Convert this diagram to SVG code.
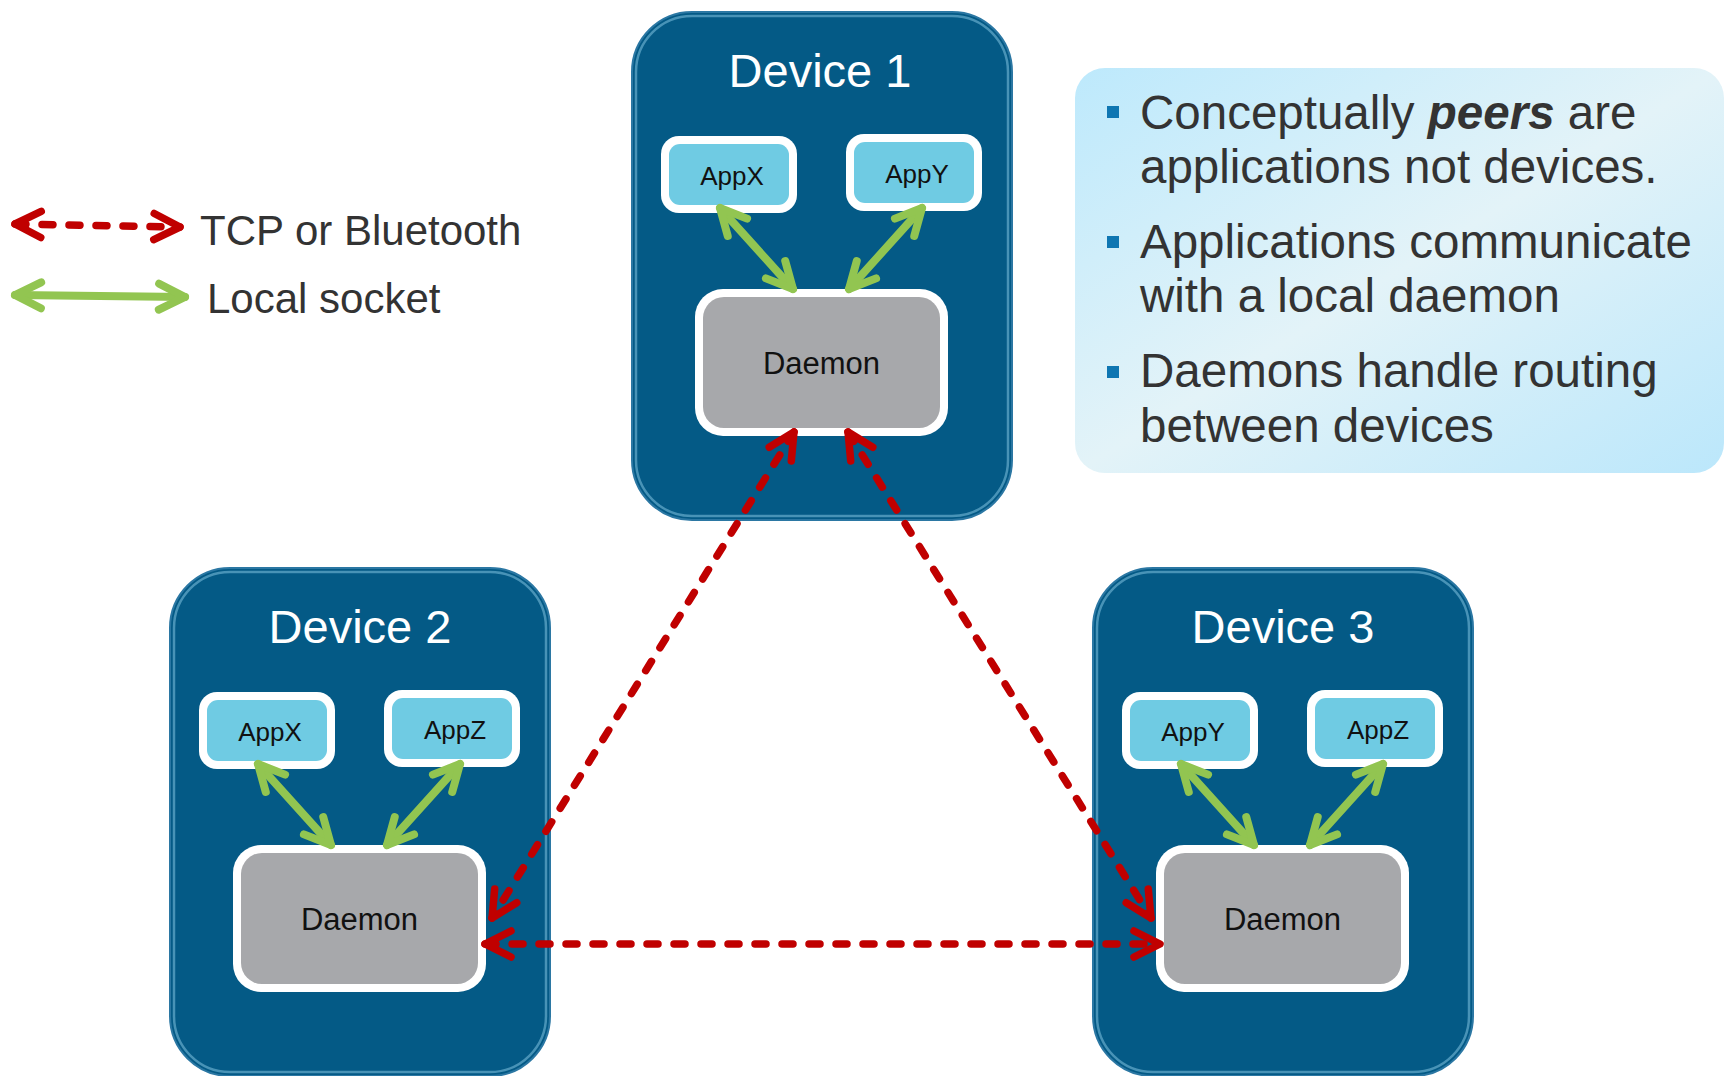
<svg xmlns="http://www.w3.org/2000/svg" width="1725" height="1076" viewBox="0 0 1725 1076">
  <style>
    .dev { fill: #045a86; stroke: #2b77a3; stroke-width: 2; }
    .devHi { fill: none; stroke: #8ccbe7; stroke-width: 2.5; opacity: 0.5; }
    .title { font-family: "Liberation Sans", Arial, sans-serif; font-size: 47px; fill: #ffffff; text-anchor: middle; }
    .appOuter { fill: #ffffff; }
    .appInner { fill: #6fcbe3; }
    .dmnInner { fill: #a7a8ab; }
    .lbl { font-family: "Liberation Sans", Arial, sans-serif; fill: #111111; text-anchor: middle; }
    .app { font-size: 26px; }
    .dmn { font-size: 31px; }
    .tcp { fill: none; stroke: #c00000; stroke-width: 7.5; stroke-linecap: round; stroke-dasharray: 11 16; }
    .sock { fill: none; stroke: #92c551; stroke-width: 8; stroke-linecap: round; }
    .legend { font-family: "Liberation Sans", Arial, sans-serif; font-size: 42px; fill: #333333; }
    .note { font-family: "Liberation Sans", Arial, sans-serif; font-size: 47.5px; fill: #333333; }
    .bullet { fill: #0e76b2; }
  </style>
  <defs>
    <marker id="redHead" markerUnits="userSpaceOnUse" markerWidth="60" markerHeight="60" refX="0" refY="0" orient="auto-start-reverse" overflow="visible">
      <path d="M-26,-13 L0,0 L-26,13" fill="none" stroke="#c00000" stroke-width="7.5" stroke-linecap="round" stroke-linejoin="round"/>
    </marker>
    <marker id="greenHead" markerUnits="userSpaceOnUse" markerWidth="60" markerHeight="60" refX="0" refY="0" orient="auto-start-reverse" overflow="visible">
      <path d="M-26,-13 L0,0 L-26,13" fill="none" stroke="#92c551" stroke-width="8" stroke-linecap="round" stroke-linejoin="round"/>
    </marker>
    <linearGradient id="noteFill" x1="0" y1="0" x2="1" y2="1">
      <stop offset="0" stop-color="#bde9fc"/>
      <stop offset="0.5" stop-color="#e3f3f8"/>
      <stop offset="1" stop-color="#bbe7fb"/>
    </linearGradient>
  </defs>

  <!-- legend -->
  <g id="legend">
    <line class="tcp" x1="15" y1="224" x2="180" y2="227" marker-start="url(#redHead)" marker-end="url(#redHead)"/>
    <text class="legend" x="200" y="245">TCP or Bluetooth</text>
    <line class="sock" x1="15" y1="295" x2="185" y2="297" marker-start="url(#greenHead)" marker-end="url(#greenHead)"/>
    <text class="legend" x="207" y="313">Local socket</text>
  </g>

  <!-- notes panel -->
  <g id="notes">
    <rect x="1075" y="68" width="649" height="405" rx="30" fill="url(#noteFill)"/>
    <rect class="bullet" x="1107" y="106" width="12" height="12"/>
    <rect class="bullet" x="1107" y="236" width="12" height="12"/>
    <rect class="bullet" x="1107" y="366" width="12" height="12"/>
    <text class="note" x="1140" y="129">Conceptually <tspan font-weight="bold" font-style="italic">peers</tspan> are</text>
    <text class="note" x="1140" y="183">applications not devices.</text>
    <text class="note" x="1140" y="258">Applications communicate</text>
    <text class="note" x="1140" y="312">with a local daemon</text>
    <text class="note" x="1140" y="387">Daemons handle routing</text>
    <text class="note" x="1140" y="442">between devices</text>
  </g>

  <!-- Device 1 -->
  <g id="device1" transform="translate(632,12)">
    <rect class="dev" x="0" y="0" width="380" height="508" rx="60"/>
    <rect class="devHi" x="4" y="4" width="372" height="500" rx="56"/>
    <text class="title" x="188" y="75">Device 1</text>
    <g id="device1-appx">
      <rect class="appOuter" x="29" y="124" width="136" height="77" rx="18"/>
      <rect class="appInner" x="37" y="132" width="120" height="61" rx="11"/>
      <text class="lbl app" x="100" y="173">AppX</text>
    </g>
    <g id="device1-appy">
      <rect class="appOuter" x="214" y="122" width="136" height="77" rx="18"/>
      <rect class="appInner" x="222" y="130" width="120" height="61" rx="11"/>
      <text class="lbl app" x="285" y="171">AppY</text>
    </g>
    <g id="device1-daemon">
      <rect class="appOuter" x="63" y="277" width="253" height="147" rx="28"/>
      <rect class="dmnInner" x="71" y="285" width="237" height="131" rx="21"/>
      <text class="lbl dmn" x="189.5" y="362">Daemon</text>
    </g>
  </g>

  <!-- Device 2 -->
  <g id="device2" transform="translate(170,568)">
    <rect class="dev" x="0" y="0" width="380" height="508" rx="60"/>
    <rect class="devHi" x="4" y="4" width="372" height="500" rx="56"/>
    <text class="title" x="190" y="75">Device 2</text>
    <g id="device2-appx">
      <rect class="appOuter" x="29" y="124" width="136" height="77" rx="18"/>
      <rect class="appInner" x="37" y="132" width="120" height="61" rx="11"/>
      <text class="lbl app" x="100" y="173">AppX</text>
    </g>
    <g id="device2-appz">
      <rect class="appOuter" x="214" y="122" width="136" height="77" rx="18"/>
      <rect class="appInner" x="222" y="130" width="120" height="61" rx="11"/>
      <text class="lbl app" x="285" y="171">AppZ</text>
    </g>
    <g id="device2-daemon">
      <rect class="appOuter" x="63" y="277" width="253" height="147" rx="28"/>
      <rect class="dmnInner" x="71" y="285" width="237" height="131" rx="21"/>
      <text class="lbl dmn" x="189.5" y="362">Daemon</text>
    </g>
  </g>

  <!-- Device 3 -->
  <g id="device3" transform="translate(1093,568)">
    <rect class="dev" x="0" y="0" width="380" height="508" rx="60"/>
    <rect class="devHi" x="4" y="4" width="372" height="500" rx="56"/>
    <text class="title" x="190" y="75">Device 3</text>
    <g id="device3-appy">
      <rect class="appOuter" x="29" y="124" width="136" height="77" rx="18"/>
      <rect class="appInner" x="37" y="132" width="120" height="61" rx="11"/>
      <text class="lbl app" x="100" y="173">AppY</text>
    </g>
    <g id="device3-appz">
      <rect class="appOuter" x="214" y="122" width="136" height="77" rx="18"/>
      <rect class="appInner" x="222" y="130" width="120" height="61" rx="11"/>
      <text class="lbl app" x="285" y="171">AppZ</text>
    </g>
    <g id="device3-daemon">
      <rect class="appOuter" x="63" y="277" width="253" height="147" rx="28"/>
      <rect class="dmnInner" x="71" y="285" width="237" height="131" rx="21"/>
      <text class="lbl dmn" x="189.5" y="362">Daemon</text>
    </g>
  </g>

  <!-- connectors: local sockets (green) and network links (red dashed) -->
  <g id="connectors">
    <line class="sock" x1="720" y1="208" x2="793" y2="289" marker-start="url(#greenHead)" marker-end="url(#greenHead)"/>
    <line class="sock" x1="922" y1="208" x2="849" y2="289" marker-start="url(#greenHead)" marker-end="url(#greenHead)"/>
    <line class="sock" x1="258" y1="764" x2="331" y2="845" marker-start="url(#greenHead)" marker-end="url(#greenHead)"/>
    <line class="sock" x1="460" y1="764" x2="387" y2="845" marker-start="url(#greenHead)" marker-end="url(#greenHead)"/>
    <line class="sock" x1="1181" y1="764" x2="1254" y2="845" marker-start="url(#greenHead)" marker-end="url(#greenHead)"/>
    <line class="sock" x1="1383" y1="764" x2="1310" y2="845" marker-start="url(#greenHead)" marker-end="url(#greenHead)"/>

    <line class="tcp" x1="794" y1="432" x2="492" y2="918" marker-start="url(#redHead)" marker-end="url(#redHead)"/>
    <line class="tcp" x1="848" y1="432" x2="1151" y2="918" marker-start="url(#redHead)" marker-end="url(#redHead)"/>
    <line class="tcp" x1="485" y1="944" x2="1160" y2="944" marker-start="url(#redHead)" marker-end="url(#redHead)"/>
  </g>
</svg>
